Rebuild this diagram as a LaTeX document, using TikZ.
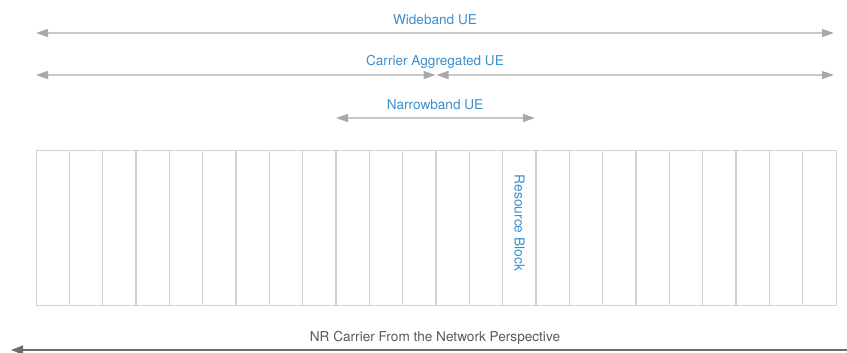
\documentclass[tikz,border=0pt]{standalone}
\usepackage{fontspec}
\setmainfont{TeX Gyre Heros}
\usetikzlibrary{arrows.meta}
\definecolor{uiblue}{HTML}{3A8FCF}
\definecolor{lnGray}{HTML}{C8C8C8}
\definecolor{tipGray}{HTML}{A8A8A8}
\definecolor{gridGray}{HTML}{D2D2D2}
\definecolor{darkLn}{HTML}{6E6E6E}
\tikzset{
  uearrow/.style={draw=lnGray, line width=1.3pt, {Triangle[length=12pt,width=8pt,color=tipGray]}-{Triangle[length=12pt,width=8pt,color=tipGray]}},
  uelabel/.style={text=uiblue, font=\fontsize{13.6}{15}\selectfont, anchor=base, inner sep=0pt},
  gridline/.style={draw=gridGray, line width=1.3pt},
  netarrow/.style={draw=darkLn, line width=1.6pt, -{Triangle[length=12pt,width=9pt]}},
  netlabel/.style={text=black!65, font=\fontsize{13.6}{15}\selectfont, anchor=base, inner sep=0pt}
}
\begin{document}
\begin{tikzpicture}[x=1pt,y=-1pt]
\useasboundingbox (0,0) rectangle (847,353);
% coordinates
\coordinate (wbL) at (36,33);
\coordinate (wbR) at (834,33);
\coordinate (caL) at (36,75);
\coordinate (caM1) at (435.5,75);
\coordinate (caM2) at (436.5,75);
\coordinate (caR) at (834,75);
\coordinate (nbL) at (336,118);
\coordinate (nbR) at (535,118);
\coordinate (netR) at (847,350);
\coordinate (netL) at (11,350);
% labels
\node[uelabel] (wblab) at (435,25) {Wideband UE};
\node[uelabel] (calab) at (435,66) {Carrier Aggregated UE};
\node[uelabel] (nblab) at (435,110) {Narrowband UE};
% arrows
\draw[uearrow] (wbL) -- (wbR);
\draw[uearrow] (caL) -- (caM1);
\draw[uearrow] (caM2) -- (caR);
\draw[uearrow] (nbL) -- (nbR);
% grid
\node[gridline, draw, minimum width=800pt, minimum height=155pt, inner sep=0pt, anchor=north west] (grid) at (36,150) {};
\foreach \i in {1,...,23} {
  \draw[gridline] ([xshift=\i*33.3333pt]grid.north west) -- ([xshift=\i*33.3333pt]grid.south west);
}
\node[text=uiblue, font=\fontsize{13.8}{15}\selectfont, rotate=-90, inner sep=0pt] (rb) at (519.5,223) {Resource Block};
% network line
\node[netlabel] (netlab) at (435,341) {NR Carrier From the Network Perspective};
\draw[netarrow] (netR) -- (netL);
\end{tikzpicture}
\end{document}
